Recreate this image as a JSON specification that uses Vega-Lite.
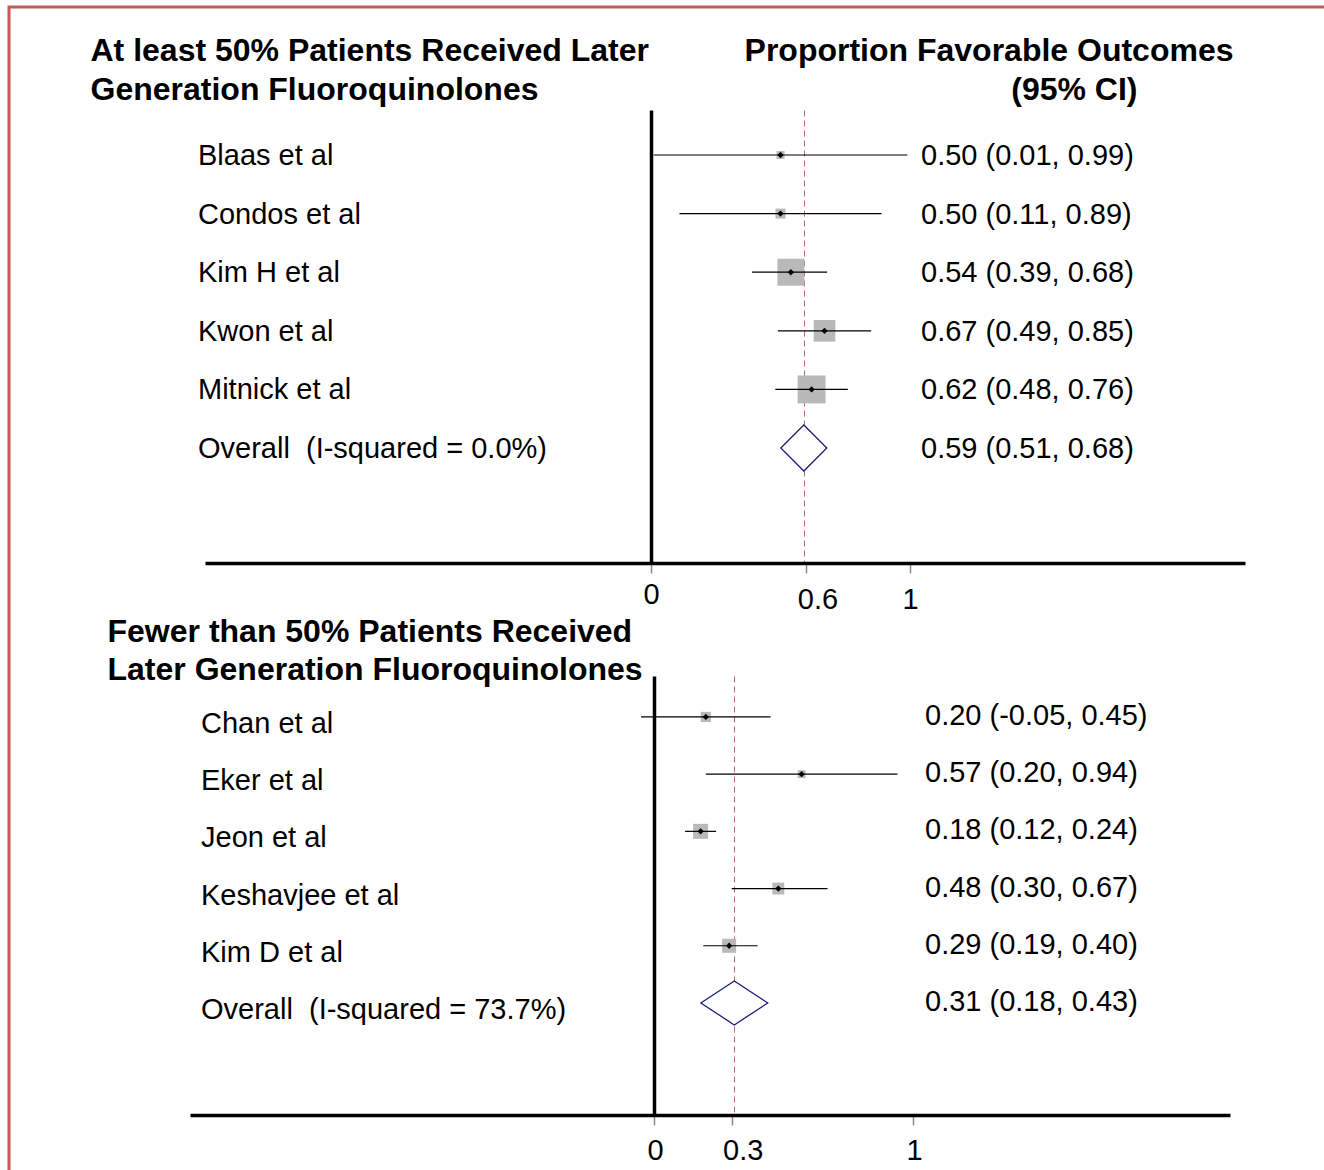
{
  "$schema": "https://vega.github.io/schema/vega-lite/v6.json",
  "width": 1320,
  "height": 1166,
  "autosize": "none",
  "padding": {"left": 9, "top": 7, "right": -5, "bottom": -3},
  "background": "white",
  "config": {
    "font": "Liberation Sans",
    "view": {"stroke": "#c65b5c", "strokeWidth": 3},
    "axis": {"labelColor": "black", "titleColor": "black", "labelFont": "Liberation Sans", "titleFont": "Liberation Sans"}
  },
  "datasets": {
    "high": [
      {"study": "Blaas et al", "type": "study", "est": 0.50, "lo": 0.01, "hi": 0.99, "weight": 3.0, "ci": "0.50 (0.01, 0.99)"},
      {"study": "Condos et al", "type": "study", "est": 0.50, "lo": 0.11, "hi": 0.89, "weight": 4.7, "ci": "0.50 (0.11, 0.89)"},
      {"study": "Kim H et al", "type": "study", "est": 0.54, "lo": 0.39, "hi": 0.68, "weight": 34.0, "ci": "0.54 (0.39, 0.68)"},
      {"study": "Kwon et al", "type": "study", "est": 0.67, "lo": 0.49, "hi": 0.85, "weight": 22.0, "ci": "0.67 (0.49, 0.85)"},
      {"study": "Mitnick et al", "type": "study", "est": 0.62, "lo": 0.48, "hi": 0.76, "weight": 36.4, "ci": "0.62 (0.48, 0.76)"},
      {"study": "Overall \u00a0(I-squared = 0.0%)", "type": "overall", "est": 0.59, "lo": 0.51, "hi": 0.68, "weight": null, "ci": "0.59 (0.51, 0.68)"}
    ],
    "low": [
      {"study": "Chan et al", "type": "study", "est": 0.20, "lo": -0.05, "hi": 0.45, "weight": 14.3, "ci": "0.20 (-0.05, 0.45)"},
      {"study": "Eker et al", "type": "study", "est": 0.57, "lo": 0.20, "hi": 0.94, "weight": 8.5, "ci": "0.57 (0.20, 0.94)"},
      {"study": "Jeon et al", "type": "study", "est": 0.18, "lo": 0.12, "hi": 0.24, "weight": 30.9, "ci": "0.18 (0.12, 0.24)"},
      {"study": "Keshavjee et al", "type": "study", "est": 0.48, "lo": 0.30, "hi": 0.67, "weight": 19.3, "ci": "0.48 (0.30, 0.67)"},
      {"study": "Kim D et al", "type": "study", "est": 0.29, "lo": 0.19, "hi": 0.40, "weight": 27.0, "ci": "0.29 (0.19, 0.40)"},
      {"study": "Overall \u00a0(I-squared = 73.7%)", "type": "overall", "est": 0.31, "lo": 0.18, "hi": 0.43, "weight": null, "ci": "0.31 (0.18, 0.43)"}
    ]
  },
  "layer": [
    {
      "data": {"name": "high"},
      "layer": [
        {
          "transform": [{"filter": "datum.type === 'study'"}],
          "mark": {"type": "point", "shape": "square", "filled": true, "color": "#b9b9b9", "opacity": 1},
          "encoding": {
            "x": {
              "field": "est", "type": "quantitative",
              "scale": {"domain": [-1.722, 2.2934], "range": [196, 1236], "nice": false, "zero": false},
              "axis": {
                "orient": "bottom", "offset": -610, "values": [0, 0.6, 1], "format": "~g",
                "title": "(95% CI)", "titleX": 1128, "titleY": -464, "titleAlign": "right", "titleAngle": 0,
                "titleBaseline": "alphabetic", "titleFontSize": 32, "titleFontWeight": "bold",
                "domainColor": "black", "domainWidth": 3.5,
                "ticks": true, "tickColor": "#888888", "tickSize": 10, "tickWidth": 1.5,
                "labelFontSize": 29, "labelBaseline": "top", "labelAlign": "center",
                "labelPadding": {"condition": {"test": "datum.value === 0", "value": 7.5}, "value": 12.5},
                "labelOffset": {"condition": {"test": "datum.value === 0.6", "value": 11}, "value": 0},
                "labelFlush": false, "labelOverlap": false, "grid": false
              }
            },
            "y": {
              "field": "study", "type": "nominal",
              "scale": {"type": "band", "domain": ["Blaas et al", "Condos et al", "Kim H et al", "Kwon et al", "Mitnick et al", "Overall \u00a0(I-squared = 0.0%)"], "range": [103, 556], "paddingInner": 0, "paddingOuter": 0.865, "align": 0.155},
              "axis": null
            },
            "size": {"field": "weight", "type": "quantitative", "scale": {"domain": [0, 100], "range": [0, 2143]}, "legend": null}
          }
        },
        {
          "transform": [{"filter": "datum.type === 'study'"}],
          "mark": {"type": "rule", "color": "#000000", "strokeWidth": 1.2},
          "encoding": {
            "x": {
              "field": "lo", "type": "quantitative",
              "axis": {
                "orient": "top", "values": [0, 0.59], "grid": true,
                "gridColor": {"condition": {"test": "datum.value === 0", "value": "black"}, "value": "#b86a78"},
                "gridWidth": {"condition": {"test": "datum.value === 0", "value": 3.5}, "value": 1},
                "gridDash": {"condition": {"test": "datum.value === 0", "value": []}, "value": [6, 4]},
                "domain": false, "ticks": false, "labels": false,
                "title": "Proportion Favorable Outcomes", "titleX": 1224, "titleY": 53, "titleAlign": "right", "titleAngle": 0,
                "titleBaseline": "alphabetic", "titleFontSize": 32, "titleFontWeight": "bold"
              }
            },
            "x2": {"field": "hi"},
            "y": {"field": "study", "type": "nominal", "axis": null}
          }
        },
        {
          "transform": [{"filter": "datum.type === 'study'"}],
          "mark": {"type": "point", "shape": "diamond", "filled": true, "color": "black", "size": 40, "opacity": 1},
          "encoding": {
            "x": {"field": "est", "type": "quantitative", "axis": null},
            "y": {"field": "study", "type": "nominal", "axis": null}
          }
        },
        {
          "transform": [{"filter": "datum.type === 'overall'"}],
          "mark": {"type": "point", "shape": "diamond", "filled": true, "fill": "white", "stroke": "#1d1d78", "strokeWidth": 1.3, "size": 2116, "opacity": 1},
          "encoding": {
            "x": {"field": "est", "type": "quantitative", "axis": null},
            "y": {"field": "study", "type": "nominal", "axis": null}
          }
        },
        {
          "mark": {"type": "text", "align": "left", "baseline": "middle", "dy": 1, "fontSize": 29, "color": "black"},
          "encoding": {
            "x": {"datum": -1.749, "type": "quantitative", "axis": null},
            "y": {"field": "study", "type": "nominal", "axis": null},
            "text": {"field": "study"}
          }
        },
        {
          "mark": {"type": "text", "align": "left", "baseline": "middle", "dx": 11, "dy": 1, "fontSize": 29, "color": "black"},
          "encoding": {
            "x": {"datum": 1, "type": "quantitative", "axis": null},
            "y": {"field": "study", "type": "nominal", "axis": null},
            "text": {"field": "ci"}
          }
        }
      ]
    },
    {
      "data": {"name": "low"},
      "layer": [
        {
          "transform": [{"filter": "datum.type === 'study'"}],
          "mark": {"type": "point", "shape": "square", "filled": true, "color": "#b9b9b9", "opacity": 1},
          "encoding": {
            "x": {
              "field": "est", "type": "quantitative",
              "scale": {"domain": [-1.7915, 2.2239], "range": [181, 1221], "nice": false, "zero": false},
              "axis": {
                "orient": "bottom", "offset": -58, "values": [0, 0.3, 1], "format": "~g",
                "title": ["At least 50% Patients Received Later", "Generation Fluoroquinolones"],
                "titleX": 81, "titleY": -1055, "titleAlign": "left", "titleAngle": 0, "titleBaseline": "alphabetic",
                "titleFontSize": 32, "titleFontWeight": "bold", "titleLineHeight": 39,
                "domainColor": "black", "domainWidth": 3.5,
                "ticks": true, "tickColor": "#888888", "tickSize": 10, "tickWidth": 1.5,
                "labelFontSize": 29, "labelBaseline": "top", "labelAlign": "center", "labelPadding": 11.5,
                "labelOffset": {"condition": {"test": "datum.value === 0.3", "value": 11}, "value": 1},
                "labelFlush": false, "labelOverlap": false, "grid": false
              }
            },
            "y": {
              "field": "study", "type": "nominal",
              "scale": {"type": "band", "domain": ["Chan et al", "Eker et al", "Jeon et al", "Keshavjee et al", "Kim D et al", "Overall \u00a0(I-squared = 73.7%)"], "range": [669, 1108], "paddingInner": 0, "paddingOuter": 0.8375, "align": 0.129},
              "axis": null
            },
            "size": {"field": "weight", "type": "quantitative", "scale": {"domain": [0, 100], "range": [0, 728]}, "legend": null}
          }
        },
        {
          "transform": [{"filter": "datum.type === 'study'"}],
          "mark": {"type": "rule", "color": "#000000", "strokeWidth": 1.2},
          "encoding": {
            "x": {
              "field": "lo", "type": "quantitative",
              "axis": {
                "orient": "top", "values": [0, 0.31], "grid": true,
                "gridColor": {"condition": {"test": "datum.value === 0", "value": "black"}, "value": "#b86a78"},
                "gridWidth": {"condition": {"test": "datum.value === 0", "value": 3.5}, "value": 1},
                "gridDash": {"condition": {"test": "datum.value === 0", "value": []}, "value": [6, 4]},
                "domain": false, "ticks": false, "labels": false,
                "title": ["Fewer than 50% Patients Received", "Later Generation Fluoroquinolones"],
                "titleX": 98, "titleY": 634, "titleAlign": "left", "titleAngle": 0, "titleBaseline": "alphabetic",
                "titleFontSize": 32, "titleFontWeight": "bold", "titleLineHeight": 38
              }
            },
            "x2": {"field": "hi"},
            "y": {"field": "study", "type": "nominal", "axis": null}
          }
        },
        {
          "transform": [{"filter": "datum.type === 'study'"}],
          "mark": {"type": "point", "shape": "diamond", "filled": true, "color": "black", "size": 40, "opacity": 1},
          "encoding": {
            "x": {"field": "est", "type": "quantitative", "axis": null},
            "y": {"field": "study", "type": "nominal", "axis": null}
          }
        },
        {
          "transform": [{"filter": "datum.type === 'overall'"}],
          "mark": {"type": "point", "shape": "M-1.52,0L0,-1L1.52,0L0,1Z", "filled": true, "fill": "white", "stroke": "#1d1d78", "strokeWidth": 1.3, "size": 1936, "opacity": 1},
          "encoding": {
            "x": {"field": "est", "type": "quantitative", "axis": null},
            "y": {"field": "study", "type": "nominal", "axis": null}
          }
        },
        {
          "mark": {"type": "text", "align": "left", "baseline": "middle", "dy": 7, "fontSize": 29, "color": "black"},
          "encoding": {
            "x": {"datum": -1.749, "type": "quantitative", "axis": null},
            "y": {"field": "study", "type": "nominal", "axis": null},
            "text": {"field": "study"}
          }
        },
        {
          "mark": {"type": "text", "align": "left", "baseline": "middle", "dx": 12, "dy": -1, "fontSize": 29, "color": "black"},
          "encoding": {
            "x": {"datum": 1, "type": "quantitative", "axis": null},
            "y": {"field": "study", "type": "nominal", "axis": null},
            "text": {"field": "ci"}
          }
        }
      ]
    }
  ],
  "resolve": {
    "scale": {"x": "independent", "y": "independent", "size": "independent"},
    "axis": {"x": "independent", "y": "independent"}
  }
}
